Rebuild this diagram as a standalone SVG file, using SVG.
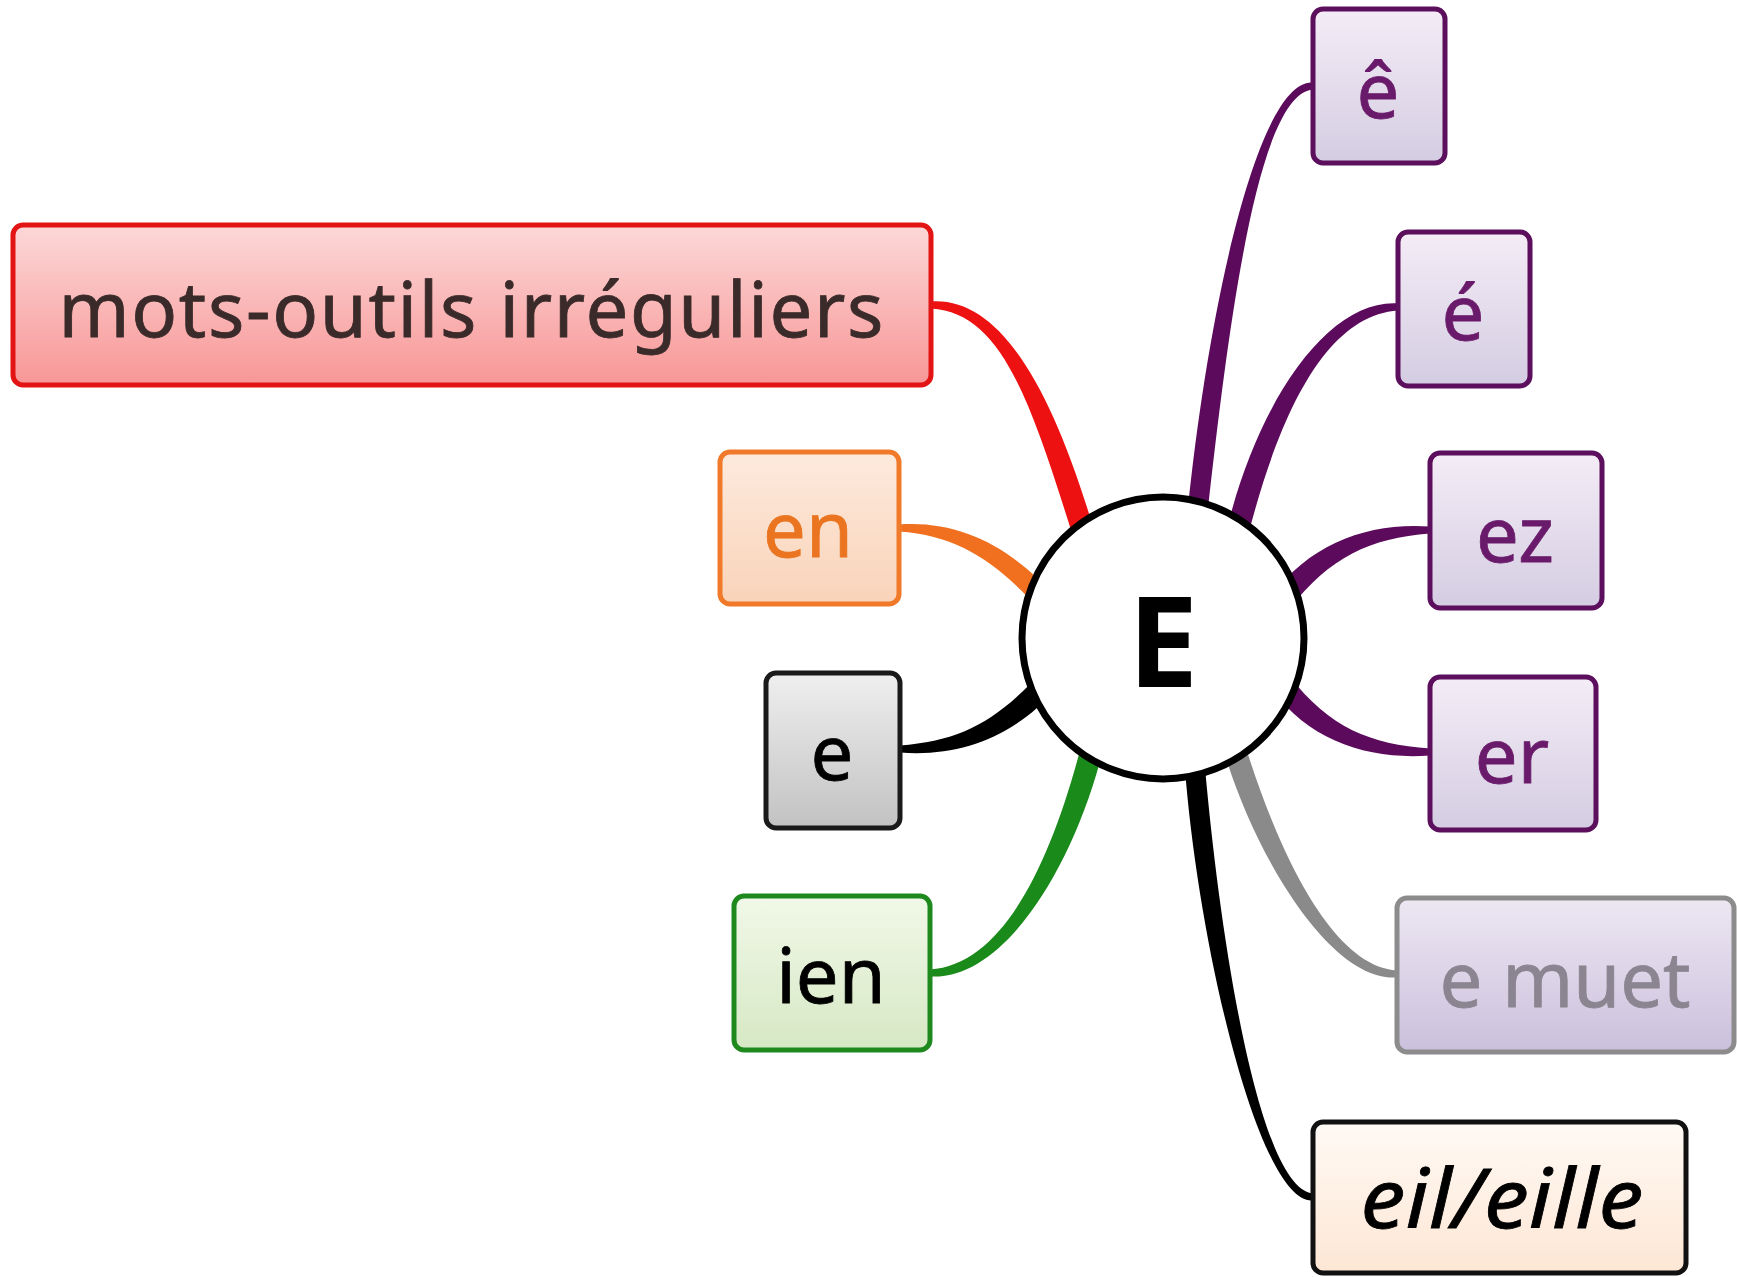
<svg xmlns="http://www.w3.org/2000/svg" width="1737" height="1277" viewBox="0 0 1737 1277">
<defs>
<linearGradient id="gRed" x1="0" y1="0" x2="0" y2="1"><stop offset="0" stop-color="#fcd8d8"/><stop offset="1" stop-color="#f89696"/></linearGradient>
<linearGradient id="gOrange" x1="0" y1="0" x2="0" y2="1"><stop offset="0" stop-color="#fdeadd"/><stop offset="1" stop-color="#f9d3b9"/></linearGradient>
<linearGradient id="gGrey" x1="0" y1="0" x2="0" y2="1"><stop offset="0" stop-color="#efefef"/><stop offset="1" stop-color="#c2c2c2"/></linearGradient>
<linearGradient id="gGreen" x1="0" y1="0" x2="0" y2="1"><stop offset="0" stop-color="#f1f8e8"/><stop offset="1" stop-color="#d6e8c4"/></linearGradient>
<linearGradient id="gPurple" x1="0" y1="0" x2="0" y2="1"><stop offset="0" stop-color="#f4ecf6"/><stop offset="1" stop-color="#d4cde2"/></linearGradient>
<linearGradient id="gMuet" x1="0" y1="0" x2="0" y2="1"><stop offset="0" stop-color="#ede7f3"/><stop offset="1" stop-color="#cbc0dc"/></linearGradient>
<linearGradient id="gCream" x1="0" y1="0" x2="0" y2="1"><stop offset="0" stop-color="#fffaf5"/><stop offset="1" stop-color="#fde6d4"/></linearGradient>
</defs>
<style>
.box{stroke-width:5}
.t{font-family:"Noto Sans","DejaVu Sans",sans-serif;font-size:76px;text-anchor:middle;stroke-width:0.8px}
</style>
<rect width="1737" height="1277" fill="#ffffff"/>
<g id="connectors">
<path fill="#ee1111" d="M931,301.5 C1000,297 1051.5,386.5 1094.5,531.8 L1073.5,538.2 C1028.5,393.5 1000,313 931,308.5 Z"/>
<path fill="#f07020" d="M899,524.5 C960,520 1013.3,547.8 1057.5,599.4 L1042.5,612.6 C996.7,562.2 960,536 899,531.5 Z"/>
<path fill="#000000" d="M900,745.5 C960,741 996,722.1 1041.7,671.8 L1058.3,686.2 C1014,737.9 960,757 900,752.5 Z"/>
<path fill="#1a8a1a" d="M930,969.5 C1005,965 1053.3,857.2 1083.8,735.8 L1105.2,741 C1076.7,862.8 1005,981 930,976.5 Z"/>
<path fill="#5c0a5c" d="M1313,89.5 C1260,94 1230.9,301.2 1207.3,515 L1187.5,512.8 C1209.1,298.8 1260,78 1313,82.5 Z"/>
<path fill="#5c0a5c" d="M1398,310.5 C1330,315 1281.7,402.9 1247.1,539.2 L1225.7,534 C1258.3,397.1 1330,299 1398,303.5 Z"/>
<path fill="#5c0a5c" d="M1430,533.5 C1370,538 1329.6,557.2 1289.8,608.6 L1272.2,595.4 C1310.4,542.8 1370,522 1430,526.5 Z"/>
<path fill="#5c0a5c" d="M1430,755.5 C1370,760 1310.4,742.2 1272.2,689.6 L1289.8,676.4 C1329.6,727.8 1370,744 1430,748.5 Z"/>
<path fill="#8a8a8a" d="M1397,977.5 C1330,982 1253.5,853.4 1223.2,748.8 L1244.2,742.4 C1276.5,846.6 1330,966 1397,970.5 Z"/>
<path fill="#000000" d="M1313,1200.5 C1260,1205 1199,950.9 1184.8,766.9 L1204.8,765.3 C1221,949.1 1260,1189 1313,1193.5 Z"/>
</g>
<g id="center">
<circle cx="1163" cy="638" r="141" fill="#ffffff" stroke="#000000" stroke-width="7"/>
<text class="t" x="1163" y="687" font-weight="bold" fill="#000000" style="font-size:126px">E</text>
</g>
<g id="node-mots">
<rect class="box" x="13" y="225" width="918" height="160" rx="10" fill="url(#gRed)" stroke="#e31414"/>
<text class="t" x="471" y="337" fill="#3a2a2a" stroke="#3a2a2a" textLength="825" lengthAdjust="spacing">mots-outils irréguliers</text>
</g>
<g id="node-en">
<rect class="box" x="720" y="452" width="179" height="152" rx="10" fill="url(#gOrange)" stroke="#f07a2a"/>
<text class="t" x="808" y="557" fill="#ea7420" stroke="#ea7420">en</text>
</g>
<g id="node-e">
<rect class="box" x="766" y="673" width="134" height="155" rx="10" fill="url(#gGrey)" stroke="#1a1a1a"/>
<text class="t" x="832" y="780" fill="#000000" stroke="#000000">e</text>
</g>
<g id="node-ien">
<rect class="box" x="734" y="896" width="196" height="154" rx="10" fill="url(#gGreen)" stroke="#1e8a1e"/>
<text class="t" x="831" y="1003" fill="#000000" stroke="#000000">ien</text>
</g>
<g id="node-ecirc">
<rect class="box" x="1313" y="9" width="132" height="154" rx="10" fill="url(#gPurple)" stroke="#5c0f5c"/>
<text class="t" x="1378" y="118" fill="#6a1a6a" stroke="#6a1a6a">ê</text>
</g>
<g id="node-eacute">
<rect class="box" x="1398" y="232" width="132" height="154" rx="10" fill="url(#gPurple)" stroke="#5c0f5c"/>
<text class="t" x="1463" y="340" fill="#6a1a6a" stroke="#6a1a6a">é</text>
</g>
<g id="node-ez">
<rect class="box" x="1430" y="453" width="172" height="155" rx="10" fill="url(#gPurple)" stroke="#5c0f5c"/>
<text class="t" x="1515" y="562" fill="#6a1a6a" stroke="#6a1a6a">ez</text>
</g>
<g id="node-er">
<rect class="box" x="1430" y="677" width="166" height="153" rx="10" fill="url(#gPurple)" stroke="#5c0f5c"/>
<text class="t" x="1512" y="783" fill="#6a1a6a" stroke="#6a1a6a">er</text>
</g>
<g id="node-emuet">
<rect class="box" x="1397" y="898" width="337" height="154" rx="10" fill="url(#gMuet)" stroke="#8c8c8c"/>
<text class="t" x="1565" y="1007" fill="#8a8590" stroke="#8a8590">e muet</text>
</g>
<g id="node-eil">
<rect class="box" x="1313" y="1122" width="373" height="151" rx="10" fill="url(#gCream)" stroke="#111111"/>
<text class="t" x="1502" y="1228" fill="#000000" stroke="#000000" font-style="italic" textLength="283" lengthAdjust="spacingAndGlyphs" style="font-size:82px">eil/eille</text>
</g>
</svg>
